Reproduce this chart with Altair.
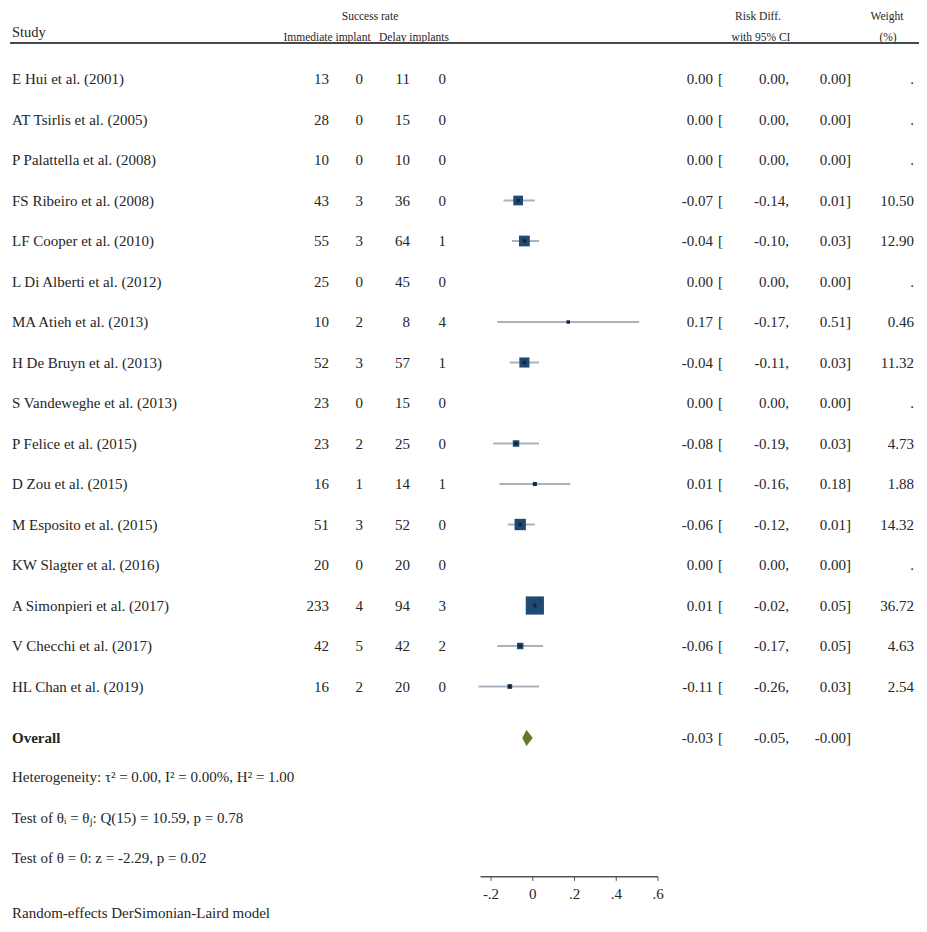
import altair as alt
import pandas as pd

# ---------------- data ----------------
studies = [
    "E Hui et al. (2001)", "AT Tsirlis et al. (2005)", "P Palattella et al. (2008)",
    "FS Ribeiro et al. (2008)", "LF Cooper et al. (2010)", "L Di Alberti et al. (2012)",
    "MA Atieh et al. (2013)", "H De Bruyn et al. (2013)", "S Vandeweghe et al. (2013)",
    "P Felice et al. (2015)", "D Zou et al. (2015)", "M Esposito et al. (2015)",
    "KW Slagter et al. (2016)", "A Simonpieri et al. (2017)", "V Checchi et al. (2017)",
    "HL Chan et al. (2019)",
]
imm_yes = [13, 28, 10, 43, 55, 25, 10, 52, 23, 23, 16, 51, 20, 233, 42, 16]
imm_no = [0, 0, 0, 3, 3, 0, 2, 3, 0, 2, 1, 3, 0, 4, 5, 2]
del_yes = [11, 15, 10, 36, 64, 45, 8, 57, 15, 25, 14, 52, 20, 94, 42, 20]
del_no = [0, 0, 0, 0, 1, 0, 4, 1, 0, 0, 1, 0, 0, 3, 2, 0]
risk_diff = [0.00, 0.00, 0.00, -0.07, -0.04, 0.00, 0.17, -0.04, 0.00, -0.08, 0.01, -0.06, 0.00, 0.01, -0.06, -0.11]
ci_low = [0.00, 0.00, 0.00, -0.14, -0.10, 0.00, -0.17, -0.11, 0.00, -0.19, -0.16, -0.12, 0.00, -0.02, -0.17, -0.26]
ci_high = [0.00, 0.00, 0.00, 0.01, 0.03, 0.00, 0.51, 0.03, 0.00, 0.03, 0.18, 0.01, 0.00, 0.05, 0.05, 0.03]
weights = [None, None, None, 10.50, 12.90, None, 0.46, 11.32, None, 4.73, 1.88, 14.32, None, 36.72, 4.63, 2.54]

overall_rd = -0.03
overall_low = -0.05
overall_high = -0.0

heterogeneity_txt = "Heterogeneity: \u03c4\u00b2 = 0.00, I\u00b2 = 0.00%, H\u00b2 = 1.00"
test_q_txt = "Test of \u03b8\u1d62 = \u03b8\u2c7c: Q(15) = 10.59, p = 0.78"
test_z_txt = "Test of \u03b8 = 0: z = -2.29, p = 0.02"
model_txt = "Random-effects DerSimonian-Laird model"

axis_ticks = [-0.2, 0.0, 0.2, 0.4, 0.6]
axis_tick_labels = ["-.2", "0", ".2", ".4", ".6"]
axis_start = -0.25

# ---------------- layout ----------------
FONT = "Liberation Serif"
TXT = "#262626"
BODY = 15
SMALL = 11.5
W, H = 911, 918
ZERO_PX, PX_PER_UNIT = 524.75, 208.75
ROW0_PX, ROW_STEP = 71.0, 40.5
X_DOMAIN = [-ZERO_PX / PX_PER_UNIT, (W - ZERO_PX) / PX_PER_UNIT]
Y_DOMAIN = [-ROW0_PX / ROW_STEP, (H - ROW0_PX) / ROW_STEP]

ROW_OVERALL = 16.27
ROW_HET = 17.235
ROW_TQ = 18.247
ROW_TZ = 19.235
ROW_AXIS = 19.70
ROW_TICK_END = 19.80
ROW_TICK_LABEL = 20.12
ROW_MODEL = 20.42
ROW_HEAD1 = -1.531
ROW_STUDY = -1.136
ROW_HEAD2 = -1.012
ROW_HLINE = -0.889
DIAMOND_HALF = 0.2

xs = alt.Scale(domain=X_DOMAIN, nice=False, zero=False)
ys = alt.Scale(domain=Y_DOMAIN, nice=False, zero=False, reverse=True)


def X(f):
    return alt.X(f, type="quantitative", scale=xs, axis=None)


def Y(f):
    return alt.Y(f, type="quantitative", scale=ys, axis=None)


def fmt(v):
    return f"{v:.2f}"


n = len(studies)
table = pd.DataFrame({
    "row": list(range(n)),
    "study": studies,
    "ia": [str(v) for v in imm_yes],
    "ib": [str(v) for v in imm_no],
    "da": [str(v) for v in del_yes],
    "db": [str(v) for v in del_no],
    "est": [fmt(v) for v in risk_diff],
    "br": ["["] * n,
    "lo": [fmt(v) + "," for v in ci_low],
    "hi": [fmt(v) + "]" for v in ci_high],
    "w": [fmt(v) if v is not None else "." for v in weights],
    "rd": risk_diff,
    "cl": ci_low,
    "ch": ci_high,
    "weight": weights,
})
forest = table[table["weight"].notna()].copy()

overall = pd.DataFrame({
    "row": [ROW_OVERALL],
    "est": [fmt(overall_rd)],
    "br": ["["],
    "lo": [fmt(overall_low) + ","],
    "hi": [fmt(overall_high) + "]"],
})


def col_text(df, field, xpx, align="right", size=BODY, weight="normal", baseline="middle"):
    return alt.Chart(df).mark_text(
        align=align, baseline=baseline, font=FONT, fontSize=size,
        fontWeight=weight, color=TXT
    ).encode(x=alt.value(xpx), y=Y("row"), text=alt.Text(f"{field}:N"))


def label(text, row, xpx, align="left", size=BODY, weight="normal", baseline="middle"):
    df = pd.DataFrame({"row": [row], "t": [text]})
    return col_text(df, "t", xpx, align=align, size=size, weight=weight, baseline=baseline)


layers = []

# header
layers += [
    label("Study", ROW_STUDY, 4, size=14.5),
    label("Success rate", ROW_HEAD1, 362, align="center", size=SMALL),
    label("Immediate implant", ROW_HEAD2, 319, align="center", size=SMALL),
    label("Delay implants", ROW_HEAD2, 406, align="center", size=SMALL),
    label("Risk Diff.", ROW_HEAD1, 750, align="center", size=SMALL),
    label("with 95% CI", ROW_HEAD2, 753, align="center", size=SMALL),
    label("Weight", ROW_HEAD1, 879, align="center", size=SMALL),
    label("(%)", ROW_HEAD2, 880, align="center", size=SMALL),
]
hline = alt.Chart(pd.DataFrame({"row": [ROW_HLINE]})).mark_rule(
    color="#4a4a4a", strokeWidth=2
).encode(x=alt.value(2), x2=alt.value(917), y=Y("row"))
layers.append(hline)

# table columns
layers += [
    col_text(table, "study", 4, align="left"),
    col_text(table, "ia", 321),
    col_text(table, "ib", 355),
    col_text(table, "da", 402),
    col_text(table, "db", 438),
    col_text(table, "est", 705),
    col_text(table, "br", 715),
    col_text(table, "lo", 781),
    col_text(table, "hi", 843),
    col_text(table, "w", 906),
]

# overall row
layers += [
    label("Overall", ROW_OVERALL, 4, weight="bold"),
    col_text(overall, "est", 705),
    col_text(overall, "br", 715),
    col_text(overall, "lo", 781),
    col_text(overall, "hi", 843),
    label(heterogeneity_txt, ROW_HET, 4),
    label(test_q_txt, ROW_TQ, 4),
    label(test_z_txt, ROW_TZ, 4),
    label(model_txt, ROW_MODEL, 4, baseline="top"),
]

# forest marks
ci = alt.Chart(forest).mark_rule(color="#a9b3be", strokeWidth=2).encode(
    x=X("cl"), x2=alt.X2("ch"), y=Y("row")
)
squares = alt.Chart(forest).mark_square(color="#1f4a74", opacity=1, filled=True).encode(
    x=X("rd"), y=Y("row"),
    size=alt.Size("weight:Q", scale=alt.Scale(domain=[0, 40], range=[0, 360]), legend=None),
)
dots = alt.Chart(forest).mark_square(color="#17243a", opacity=1, filled=True, size=12).encode(
    x=X("rd"), y=Y("row")
)
diamond_df = pd.DataFrame({
    "x": [overall_low, overall_rd, overall_high],
    "y1": [ROW_OVERALL, ROW_OVERALL - DIAMOND_HALF, ROW_OVERALL],
    "y2": [ROW_OVERALL, ROW_OVERALL + DIAMOND_HALF, ROW_OVERALL],
})
diamond = alt.Chart(diamond_df).mark_area(color="#5f7a2c", orient="vertical", opacity=1).encode(
    x=X("x"), y=Y("y1"), y2=alt.Y2("y2")
)
layers += [ci, squares, dots, diamond]

# axis
axis_line = alt.Chart(pd.DataFrame({"a": [axis_start], "b": [axis_ticks[-1]], "row": [ROW_AXIS]})).mark_rule(
    color="#555555", strokeWidth=1.5
).encode(x=X("a"), x2=alt.X2("b"), y=Y("row"))
tick_df = pd.DataFrame({
    "v": axis_ticks, "lab": axis_tick_labels,
    "r1": [ROW_AXIS] * len(axis_ticks), "r2": [ROW_TICK_END] * len(axis_ticks),
    "row": [ROW_TICK_LABEL] * len(axis_ticks),
})
ticks = alt.Chart(tick_df).mark_rule(color="#555555", strokeWidth=1).encode(
    x=X("v"), y=Y("r1"), y2=alt.Y2("r2")
)
tick_labels = alt.Chart(tick_df).mark_text(
    font=FONT, fontSize=BODY, color=TXT, baseline="middle", align="center"
).encode(x=X("v"), y=Y("row"), text="lab:N")
layers += [axis_line, ticks, tick_labels]

chart = alt.layer(*layers).properties(
    width=W, height=H, padding=0, autosize=alt.AutoSizeParams(type="none"),
    background="white",
).configure_view(stroke=None)

chart.save("out.html", embed_options={"renderer": "svg", "actions": False})
